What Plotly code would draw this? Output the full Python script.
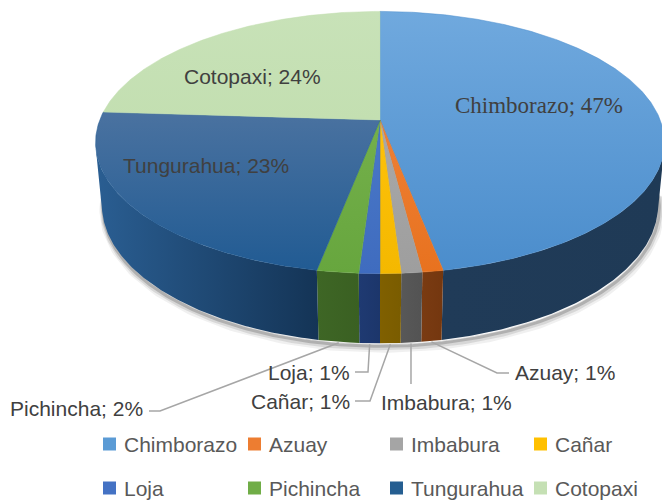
import numpy as np
import plotly.graph_objects as go

# ---------------- data ----------------
categories = ["Chimborazo", "Azuay", "Imbabura", "Cañar", "Loja", "Pichincha", "Tungurahua", "Cotopaxi"]
values = [47, 1, 1, 1, 1, 2, 23, 24]

# ---------------- styles ----------------
top_light = ["#70A9DE", "#EE8036", "#A9A9A9", "#FFC20A", "#4A78C8", "#74B04B", "#4A72A0", "#C8E2B8"]
top_dark = ["#4B8DCC", "#E8721F", "#9E9E9E", "#F4B800", "#3F6CBF", "#67A63E", "#215B93", "#C3DFB1"]
side_left = ["#203B58", "#7A3B12", "#585858", "#806000", "#1F3A72", "#3E6625", "#2A5E92", "#5E7052"]
side_right = ["#1F3A56", "#74370F", "#535353", "#7A5C00", "#1C366B", "#3A6022", "#143456", "#5E7052"]
legend_colors = ["#5B9BD5", "#ED7D31", "#A5A5A5", "#FFC000", "#4472C4", "#70AD47", "#255E91", "#C5E0B4"]

# in-slice label positions (pixels)
inside_labels = {"Chimborazo": (539, 105, "Liberation Serif, Times New Roman, serif", 23),
                 "Cotopaxi": (252, 76, "Liberation Sans, Arial, sans-serif", 21),
                 "Tungurahua": (206, 165, "Liberation Sans, Arial, sans-serif", 21)}
# outside labels: (elbow points..., text x, text y, anchor)
outside_labels = {
    "Azuay": ([(497, 373), (509, 373)], 513, 372, "left"),
    "Imbabura": ([(None, 384)], 379, 402, "left"),
    "Cañar": ([(370, 401), (355, 401)], 352, 401, "right"),
    "Loja": ([(368, 372), (355, 372)], 352, 372, "right"),
    "Pichincha": ([(160, 411), (149, 411)], 145, 408, "right"),
}
legend_cols = [103, 248, 390, 534]
legend_rows = [444, 488]

W, H_PX = 662, 501

# ---------------- projection ----------------
ALPHA = np.radians(27)
SA, CA = np.sin(ALPHA), np.cos(ALPHA)
DIST = 5.192
FOC = 1455.0
THICK = 0.251
CX, CY = 380.0, 120.0


def proj(theta_deg, z):
    t = np.radians(np.asarray(theta_deg, dtype=float))
    X = np.sin(t)
    Y = -np.cos(t)
    depth = DIST - Y * CA - z * SA
    u = -Y * SA + z * CA
    return CX + FOC * X / depth, CY - FOC * u / depth


vis_lo = np.degrees(np.arccos(-1.0 / (DIST * CA)))
vis_hi = 360 - vis_lo

total = float(sum(values))
cum = np.concatenate([[0], np.cumsum(values)]) / total * 360.0
starts, ends = cum[:-1], cum[1:]

fig = go.Figure()

# shadow beneath the pie
th = np.linspace(vis_lo - 8, vis_hi + 8, 200)
bx, by = proj(th, -THICK)
for off, wdt, alpha in [(5, 9, 0.06), (4, 6, 0.10), (3, 3, 0.18)]:
    fig.add_trace(go.Scatter(x=bx + off * 0.4, y=by + off, mode="lines",
                             line=dict(color=f"rgba(0,0,0,{alpha})", width=wdt),
                             hoverinfo="skip", showlegend=False))

# sides (front visible part)
for i, c in enumerate(categories):
    a, b = max(starts[i], vis_lo), min(ends[i], vis_hi)
    if b <= a:
        continue
    t = np.linspace(a, b, max(4, int((b - a) * 2)))
    x1, y1 = proj(t, 0.0)
    x2, y2 = proj(t[::-1], -THICK)
    xs = np.concatenate([x1, x2, x1[:1]])
    ys = np.concatenate([y1, y2, y1[:1]])
    fig.add_trace(go.Scatter(x=xs, y=ys, fill="toself", mode="lines",
                             line=dict(width=0, color=side_left[i]),
                             fillcolor=side_left[i],
                             fillgradient=dict(type="horizontal",
                                               colorscale=[[0, side_left[i]], [1, side_right[i]]]),
                             hoverinfo="skip", showlegend=False))

# top surfaces
for i, c in enumerate(categories):
    a, b = starts[i], ends[i]
    t = np.linspace(a, b, max(4, int((b - a) * 2)))
    x1, y1 = proj(t, 0.0)
    xs = np.concatenate([[CX], x1, [CX]])
    ys = np.concatenate([[CY], y1, [CY]])
    fig.add_trace(go.Scatter(x=xs, y=ys, fill="toself", mode="lines",
                             line=dict(width=0.5, color=top_dark[i]),
                             fillcolor=top_dark[i],
                             fillgradient=dict(type="vertical",
                                               colorscale=[[0, top_dark[i]], [1, top_light[i]]]),
                             hoverinfo="skip", showlegend=False))

annotations = []
pct = [v / total * 100 for v in values]
for i, c in enumerate(categories):
    txt = f"{c}; {pct[i]:.0f}%"
    if c in inside_labels:
        lx, ly, fam, sz = inside_labels[c]
        annotations.append(dict(x=lx, y=ly, xref="x", yref="y", text=txt, showarrow=False,
                                font=dict(family=fam, size=sz, color="#404040"),
                                xanchor="center", yanchor="middle"))
    elif c in outside_labels:
        pts, lx, ly, anc = outside_labels[c]
        mid = (starts[i] + ends[i]) / 2
        ax, ay = proj(mid, -THICK)
        lxs, lys = [float(ax)], [float(ay) + 1]
        for (px, py) in pts:
            lxs.append(float(ax) if px is None else px)
            lys.append(py)
        fig.add_trace(go.Scatter(x=lxs, y=lys, mode="lines",
                                 line=dict(color="#A6A6A6", width=1.5),
                                 hoverinfo="skip", showlegend=False))
        annotations.append(dict(x=lx, y=ly, xref="x", yref="y", text=txt, showarrow=False,
                                font=dict(family="Liberation Sans, Arial, sans-serif", size=21,
                                          color="#404040"),
                                xanchor=anc, yanchor="middle"))

# legend
shapes = []
for i, c in enumerate(categories):
    r, col = divmod(i, 4)
    lx, ly = legend_cols[col], legend_rows[r]
    shapes.append(dict(type="rect", xref="x", yref="y", x0=lx, x1=lx + 13, y0=ly - 6.5, y1=ly + 6.5,
                       fillcolor=legend_colors[i], line=dict(width=0)))
    annotations.append(dict(x=lx + 19, y=ly, xref="x", yref="y", text=c, showarrow=False,
                            font=dict(family="Liberation Sans, Arial, sans-serif", size=21,
                                      color="#595959"),
                            xanchor="left", yanchor="middle"))

fig.update_layout(
    width=W, height=H_PX,
    margin=dict(l=0, r=0, t=0, b=0),
    paper_bgcolor="white", plot_bgcolor="white",
    xaxis=dict(range=[0, W], visible=False, fixedrange=True),
    yaxis=dict(range=[H_PX, 0], visible=False, fixedrange=True),
    showlegend=False,
    annotations=annotations,
    shapes=shapes,
)

fig.write_html("out.html", config={"displayModeBar": False},
               post_script="document.body.style.margin='0';")
